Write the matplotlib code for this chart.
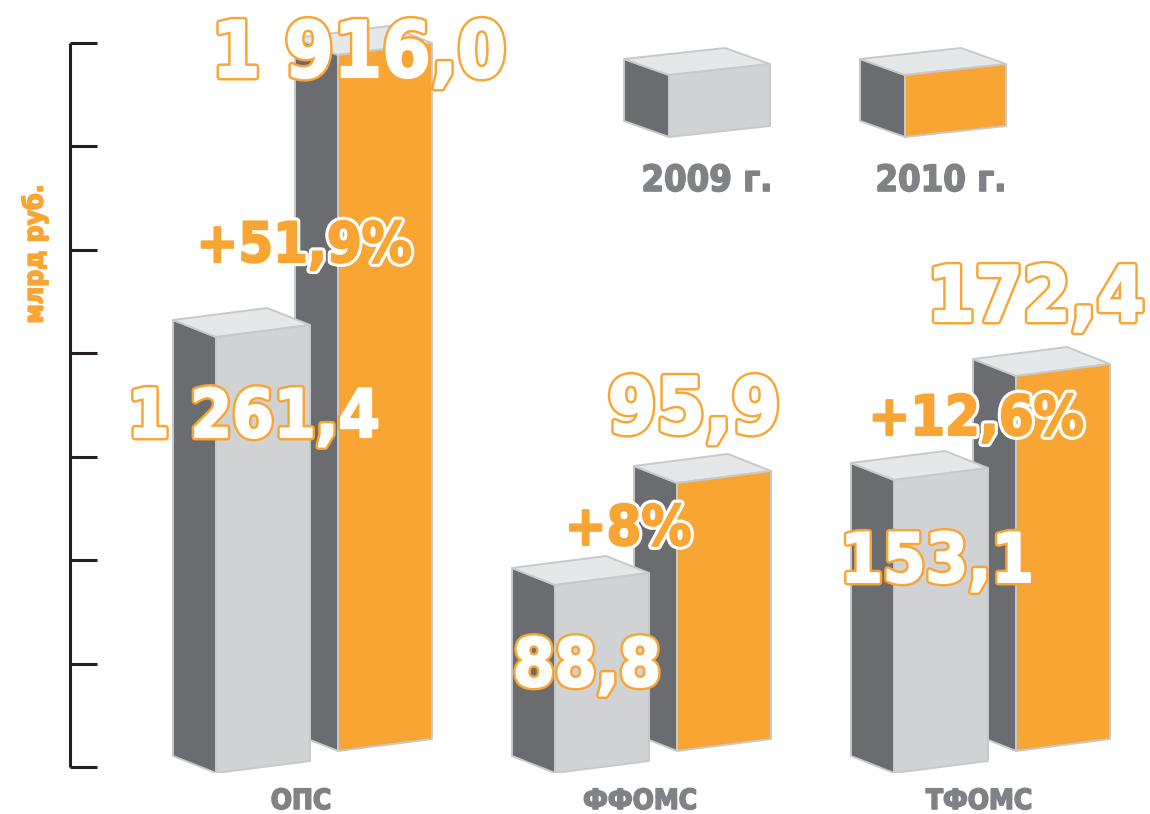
import numpy as np
import matplotlib
matplotlib.use('Agg')
import matplotlib.pyplot as plt
import matplotlib.patheffects as pe
import matplotlib.transforms as mtransforms
from matplotlib.patches import Polygon

# --- Data ---
CATEGORIES = ['ОПС', 'ФФОМС', 'ТФОМС']
YEARS = ['2009 г.', '2010 г.']
VALUES_2009 = [1261.4, 88.8, 153.1]
VALUES_2010 = [1916.0, 95.9, 172.4]
Y_LABEL = 'млрд руб.'

# the original bars are not to scale: drawn height (px) for each value,
# used only to build the y scale below
PX_2009 = [436, 188, 293]
PX_2010 = [696, 268, 375]

# --- Style ---
ORANGE = '#f8a533'
LIGHT = '#d1d2d4'
DARK = '#6b6c70'
TOP = '#e6e7e8'
EDGE = '#c8c9cb'
GREY_TXT = '#808285'
INK = '#231f20'
FONT = dict(family='DejaVu Sans', fontweight='bold', fontstretch='condensed')

W, H = 1150, 814
BASE = 773          # baseline of the front bars, px from top
UNIT = 339          # px between groups
GROUP0 = 301        # px of first group centre
BW, DEPTH, DRISE, SLOPE = 94, 43, 17, 12
LIFT_2010 = 22

# piecewise y scale through the drawn heights
kv = np.array([0.0] + VALUES_2009 + VALUES_2010)
kh = np.array([0.0] + PX_2009 + PX_2010, dtype=float)
order = np.argsort(kv)
kv, kh = kv[order], kh[order]
slope = (kh[-1] - kh[-2]) / (kv[-1] - kv[-2])
kv = np.append(kv, kv[-1] + (1200 - kh[-1]) / slope)
kh = np.append(kh, 1200)


def fwd(x):
    return np.interp(x, kv, kh)


def inv(s):
    return np.interp(s, kh, kv)


def box_faces(P, w, h, d, dy, sl, front):
    faces = [
        ([(0, 0), (-d, dy), (-d, h + dy), (0, h)], DARK),
        ([(0, h), (w, h + sl), (w - d, h + sl + dy), (-d, h + dy)], TOP),
        ([(0, 0), (w, sl), (w, h + sl), (0, h)], front),
    ]
    return [Polygon([P(a, b) for a, b in pts], closed=True, fc=c, ec=EDGE,
                    lw=1.4, joinstyle='round') for pts, c in faces]


def bar_mapper(i, off, base):
    x0 = i + off / UNIT
    return lambda dx, dy: (x0 + dx / UNIT, inv(base + dy))


def fmt_value(v):
    return f'{v:,.1f}'.replace(',', ' ').replace('.', ',')


def fmt_growth(a, b):
    s = f'+{(b / a - 1) * 100:.1f}'.replace('.', ',')
    if s.endswith(',0'):
        s = s[:-2]
    return s + '%'


fig = plt.figure(figsize=(W / 100, H / 100), dpi=100)
fig.patch.set_facecolor('white')

ax = fig.add_axes([0, (H - BASE) / H, 1, BASE / H])
ax.set_yscale('function', functions=(fwd, inv))
ax.set_xlim(-GROUP0 / UNIT, (W - GROUP0) / UNIT)
ax.set_ylim(0, inv(BASE))
ax.axis('off')

lay = fig.add_axes([0, 0, 1, 1])
lay.set_xlim(0, W)
lay.set_ylim(H, 0)
lay.axis('off')

# per-label offsets (px) from the top centre of the bar front
OFF_2009 = [(-9, -87), (-15, -88), (-4, -89)]
OFF_2010 = [(-26, -6), (-30, 66), (-27, 70)]
OFF_GROW = [(41, 84), (26, 49), (35, 54)]
SIZE_2009 = [48, 48, 49]
SIZE_2010 = [56, 56, 55]
SIZE_GROW = 40

# heavier glyphs: thin stroke in the fill colour over a wide outline
white_txt = [pe.Stroke(linewidth=5, foreground=ORANGE),
             pe.Stroke(linewidth=1.5, foreground='white'), pe.Normal()]
orange_txt = [pe.Stroke(linewidth=6, foreground='white'),
              pe.Stroke(linewidth=1.5, foreground=ORANGE), pe.Normal()]

for i, cat in enumerate(CATEGORIES):
    v9, v10 = VALUES_2009[i], VALUES_2010[i]
    P10 = bar_mapper(i, 37, LIFT_2010)
    P09 = bar_mapper(i, -85, 0)
    h10, h09 = fwd(v10), fwd(v9)
    for p in box_faces(P10, BW, h10, DEPTH, DRISE, SLOPE, ORANGE):
        ax.add_patch(p)
    for p in box_faces(P09, BW, h09, DEPTH, DRISE, SLOPE, LIGHT):
        ax.add_patch(p)

    top09 = P09(BW / 2, h09 + SLOPE / 2)
    top10 = P10(BW / 2, h10 + SLOPE / 2)
    ax.annotate(fmt_value(v10), xy=top10, xytext=OFF_2010[i], textcoords='offset pixels',
                ha='center', va='center', color='white', fontsize=SIZE_2010[i],
                path_effects=white_txt, zorder=10, annotation_clip=False, **FONT)
    ax.annotate(fmt_value(v9), xy=top09, xytext=OFF_2009[i], textcoords='offset pixels',
                ha='center', va='center', color='white', fontsize=SIZE_2009[i],
                path_effects=white_txt, zorder=10, annotation_clip=False, **FONT)
    ax.annotate(fmt_growth(v9, v10), xy=top09, xytext=OFF_GROW[i], textcoords='offset pixels',
                ha='center', va='center', color=ORANGE, fontsize=SIZE_GROW,
                path_effects=orange_txt, zorder=11, annotation_clip=False, **FONT)

# category labels under the groups
cat_tr = mtransforms.blended_transform_factory(ax.transData, lay.transData)
heavy_grey = [pe.Stroke(linewidth=1.2, foreground=GREY_TXT), pe.Normal()]
for i, cat in enumerate(CATEGORIES):
    ax.text(i, 801, cat, transform=cat_tr, ha='center', va='center',
            color=GREY_TXT, fontsize=20, clip_on=False,
            path_effects=heavy_grey, **FONT)

# legend boxes
for (x0, y0), label, lx, face in [((669, 137), YEARS[0], 707, LIGHT),
                                   ((905, 137), YEARS[1], 941, ORANGE)]:
    P = (lambda a, b: lambda dx, dy: (a + dx, b - dy))(x0, y0)
    for p in box_faces(P, 101, 62, 45, 16, 11, face):
        lay.add_patch(p)
    lay.text(lx, 181, label, ha='center', va='center', color=GREY_TXT,
             fontsize=26, path_effects=heavy_grey, **FONT)

# the unlabeled ruler on the left
ticks = np.linspace(43, 767, 8)
lay.plot([70, 70], [43, 767], color=INK, lw=2.2, solid_capstyle='butt')
lay.hlines(ticks, 70, 97, color=INK, lw=2.2)
lay.text(35, 254, Y_LABEL, rotation=90, ha='center', va='center',
         color=ORANGE, fontsize=19,
         path_effects=[pe.Stroke(linewidth=1.2, foreground=ORANGE), pe.Normal()],
         **FONT)

fig.savefig('out.png', dpi=100)
